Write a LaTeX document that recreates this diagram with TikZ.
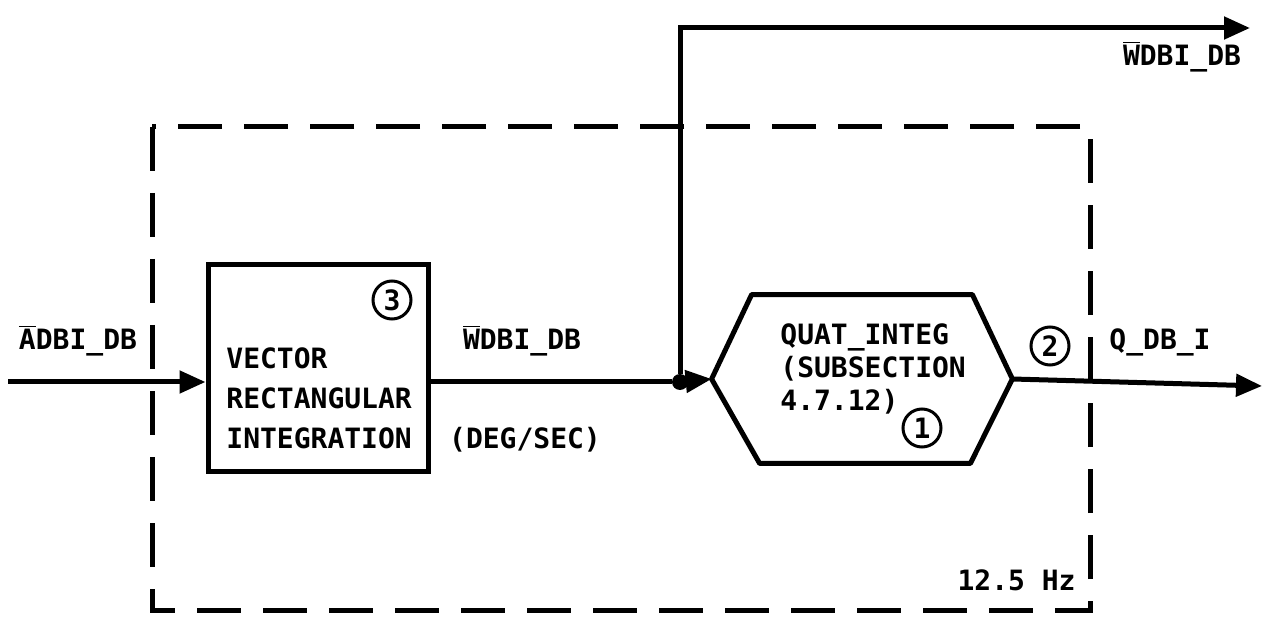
\documentclass[tikz,border=0pt]{standalone}
\usepackage{fontspec}
\setmonofont{DejaVu Sans Mono}
\usetikzlibrary{arrows.meta,positioning}
\tikzset{
  block/.style={draw,rectangle,line width=2.5pt,minimum width=110pt,minimum height=103pt},
  hexa/.style={minimum width=150pt,minimum height=84pt},
  flow/.style={line width=2.5pt,-{Triangle[length=13pt,width=11pt]}},
  wire/.style={line width=2.5pt},
  bound/.style={line width=2.5pt,dash pattern=on 22pt off 11pt},
  tag/.style={draw,circle,line width=1.5pt,minimum size=19pt,inner sep=0pt,font=\ttfamily\bfseries\fontsize{14}{14}\selectfont},
  lbl/.style={inner sep=0pt,anchor=base}
}
\newcommand{\ovr}[1]{$\overline{\mbox{#1}}$}

\begin{document}
\begin{tikzpicture}[x=0.5pt,y=-0.5pt,font=\ttfamily\bfseries\fontsize{14}{20}\selectfont]
\useasboundingbox (0,0) rectangle (1266,642);

% 12.5 Hz frame
\draw[bound] (152,127) rectangle (1090,610);

\node[block] (vri) at (318,368) {};
\node[align=left,anchor=north west,inner sep=0pt] (vritxt) at (226,347) {VECTOR\\RECTANGULAR\\INTEGRATION};

\node[hexa] (quat) at (862,379) {};
\draw[wire,line join=round] (quat.west) -- ([xshift=20pt]quat.north west) -- ([xshift=-20pt]quat.north east)
  -- (quat.east) -- ([xshift=-21pt]quat.south east) -- ([xshift=24pt]quat.south west) -- cycle;
\node[align=left,anchor=north west,inner sep=0pt,font=\ttfamily\bfseries\fontsize{14}{16.5}\selectfont] (quattxt) at (780,323) {QUAT\_INTEG\\(SUBSECTION\\4.7.12)};

\node[circle,fill,inner sep=0pt,minimum size=8pt] (jn) at (680,382) {};
\coordinate (in) at (8,382);
\coordinate (out) at (1262,386);
\coordinate (wout) at (1250,28);

\draw[flow] (in) -- (in -| vri.west);
\draw[wire] (jn -| vri.east) -- (jn);
\draw[flow] (jn) -- (quat.west);
\draw[flow] (jn) |- (wout);
\draw[flow] (quat.east) -- (out);

% signal names
\node[lbl] (adbi) at (78,350) {\ovr{A}DBI\_DB};
\node[lbl] (wdbi) at (522,350) {\ovr{W}DBI\_DB};
\node[lbl] (unit) at (525,448) {(DEG/SEC)};
\node[lbl] (qdbi) at (1160,350) {Q\_DB\_I};
\node[lbl] (wtop) at (1182,66) {\ovr{W}DBI\_DB};
\node[lbl,anchor=base east] (rate) at (1076,590) {12.5 Hz};

\node[tag] (n3) at (392,300) {3};
\node[tag] (n1) at (922,428) {1};
\node[tag] (n2) at (1050,346) {2};

\end{tikzpicture}
\end{document}
